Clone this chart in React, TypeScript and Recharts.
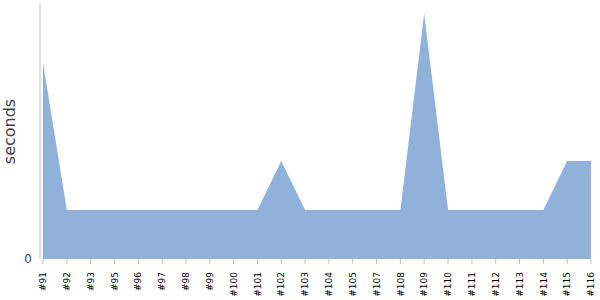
import { Area, AreaChart, XAxis, YAxis } from "recharts";

const builds = [
  "#91", "#92", "#93", "#95", "#96", "#97", "#98", "#99", "#100", "#101", "#102", "#103",
  "#104", "#105", "#107", "#108", "#109", "#110", "#111", "#112", "#113", "#114", "#115", "#116",
];
const durations = [4, 1, 1, 1, 1, 1, 1, 1, 1, 1, 2, 1, 1, 1, 1, 1, 5, 1, 1, 1, 1, 1, 2, 2];
const yTicks = [0];

const data = builds.map((name, i) => ({ name, seconds: durations[i] }));

function BuildTick({ x, y, payload }: any) {
  return (
    <g transform={`translate(${x},${y})`}>
      <text
        transform="rotate(-90)"
        x={0}
        y={0}
        dy="0.35em"
        textAnchor="end"
        fontSize={9}
        fill="#000"
        fontFamily="DejaVu Sans"
      >
        {payload.value}
      </text>
    </g>
  );
}

export default function App() {
  return (
    <div style={{ position: "absolute", left: 0, top: 0, background: "#fff" }}>
      <AreaChart width={600} height={300} data={data} margin={{ top: 4, right: 9, bottom: 0, left: 0 }}>
        <XAxis
          dataKey="name"
          interval={0}
          height={41}
          axisLine={false}
          tickLine={{ stroke: "#c0c0c0" }}
          tickSize={5}
          tickMargin={8}
          tick={<BuildTick />}
          padding={{ left: 3, right: 0 }}
        />
        <YAxis
          width={40}
          domain={[0, 5.2]}
          ticks={yTicks}
          axisLine={{ stroke: "#c0c0c0" }}
          tickLine={false}
          tickSize={0}
          tickMargin={8}
          tick={{ fontSize: 12, fill: "#444", fontFamily: "DejaVu Sans" }}
          label={{
            value: "seconds",
            angle: -90,
            position: "insideLeft",
            dx: 4,
            fontSize: 16,
            fill: "#444",
            fontFamily: "DejaVu Sans",
            style: { textAnchor: "middle" },
          }}
        />
        <Area
          type="linear"
          dataKey="seconds"
          stroke="none"
          fill="#8fb1da"
          fillOpacity={1}
          isAnimationActive={false}
        />
      </AreaChart>
    </div>
  );
}
